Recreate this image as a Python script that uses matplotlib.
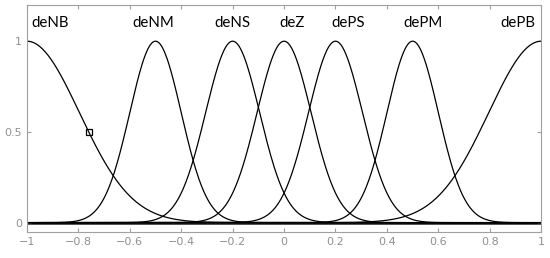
import numpy as np
import matplotlib
matplotlib.use("Agg")
import matplotlib.pyplot as plt

# membership functions (gaussmf): name, center, sigma
names = ["deNB", "deNM", "deNS", "deZ", "dePS", "dePM", "dePB"]
centers = [-1.0, -0.5, -0.2, 0.0, 0.2, 0.5, 1.0]
sigmas = [0.204, 0.10, 0.105, 0.105, 0.105, 0.10, 0.204]
label_x = [-0.91, -0.51, -0.20, 0.03, 0.25, 0.54, 0.91]

# highlighted point on deNB
pt_x = [-0.76]
pt_y = [0.5]

x = np.linspace(-1, 1, 801)

fig = plt.figure(figsize=(5.5, 2.58), dpi=100)
ax = fig.add_axes([0.049, 0.102, 0.935, 0.879])

# tails of all curves pile up on zero -> thick base line
ax.axhline(0, color="#202020", lw=1.8, zorder=1)

for c, s in zip(centers, sigmas):
    y = np.exp(-(x - c) ** 2 / (2 * s ** 2))
    ax.plot(x, y, color="black", lw=0.9, zorder=2)

ax.plot(pt_x, pt_y, "s", mfc="none", mec="black", ms=5, mew=0.9, zorder=3)

for name, lx in zip(names, label_x):
    ax.text(lx, 1.1, name, ha="center", va="center", fontsize=10.8,
            family=["Lato", "DejaVu Sans"], color="black")

ax.set_xlim(-1, 1)
ax.set_ylim(-0.05, 1.2)
ax.set_xticks(np.arange(-1, 1.01, 0.2))
ax.set_xticklabels(["\u22121", "\u22120.8", "\u22120.6", "\u22120.4", "\u22120.2",
                    "0", "0.2", "0.4", "0.6", "0.8", "1"])
ax.set_yticks([0, 0.5, 1])
ax.set_yticklabels(["0", "0.5", "1"])

gray = "#a0a0a0"
for sp in ax.spines.values():
    sp.set_color(gray)
    sp.set_linewidth(0.8)
ax.tick_params(direction="in", top=True, right=True, color=gray,
               labelcolor="#909090", labelsize=8, length=3, width=0.8)
ax.tick_params(axis="x", pad=4)

fig.savefig("out.png", dpi=100)
